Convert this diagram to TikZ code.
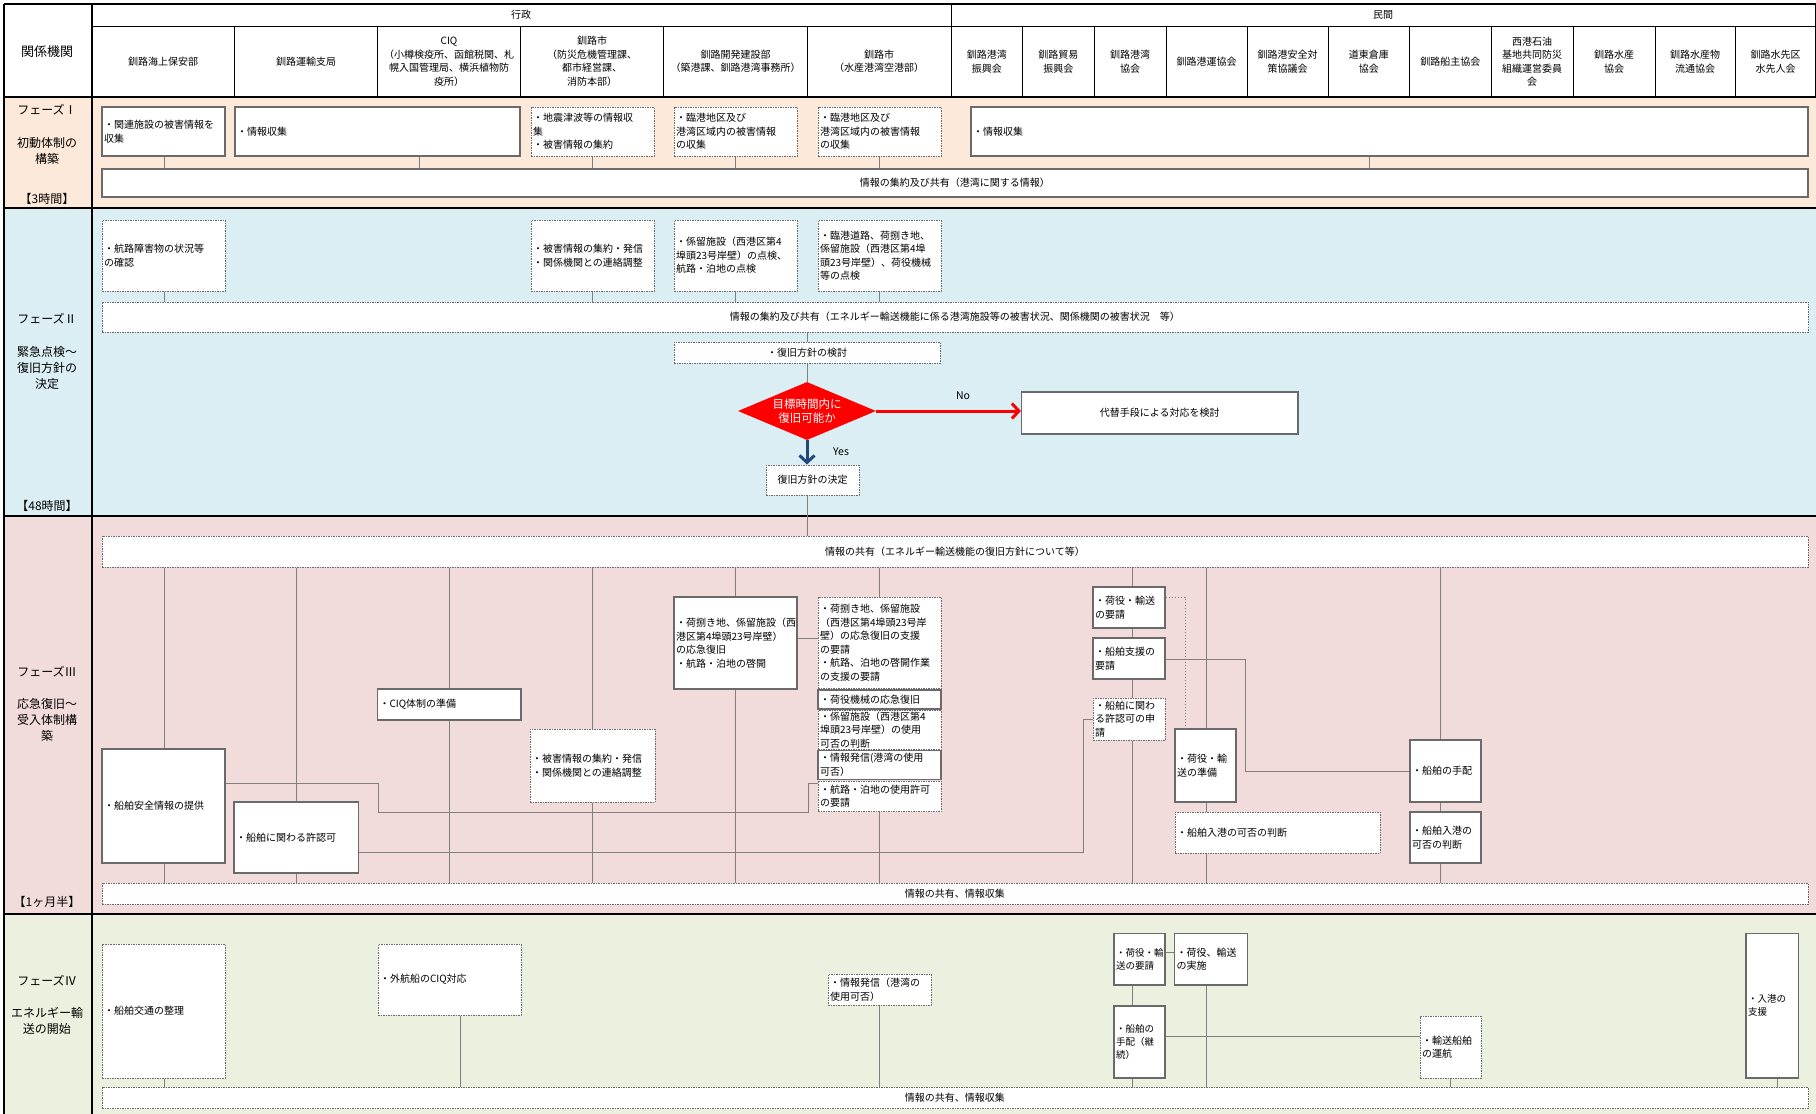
\documentclass[tikz,border=0pt]{standalone}
\usepackage{fontspec}
\setmainfont{Noto Sans CJK JP}
\usetikzlibrary{shapes.geometric,arrows.meta}
\definecolor{bgI}{HTML}{FDE9D9}
\definecolor{bgII}{HTML}{DAEEF3}
\definecolor{bgIII}{HTML}{F2DCDB}
\definecolor{bgIV}{HTML}{EBF1DE}
\definecolor{bdr}{HTML}{6A6A6A}
\definecolor{cn}{HTML}{7F7F7F}
\definecolor{dred}{HTML}{FF0000}
\definecolor{yesblue}{HTML}{1F497D}
\newcommand\fsz[2]{\fontsize{#1}{#2}\selectfont}
\newcommand\bx[7]{%
  \pgfmathsetmacro\bxw{#4-#2}\pgfmathsetmacro\bxh{#5-#3}\pgfmathsetmacro\bxt{#4-#2-4}%
  \node[#6, minimum width=\bxw pt, minimum height=\bxh pt, text width=\bxt pt] (#1) at ({(#2+#4)/2},{(#3+#5)/2}) {#7};}
\tikzset{
  bxbase/.style={rectangle, fill=white, inner xsep=2pt, inner ysep=1pt, font=\fsz{10}{13.5}, align=left},
  sbox/.style={bxbase, draw=bdr, line width=1.1pt},
  dbox/.style={bxbase, draw=bdr, line width=1pt, dash pattern=on 1.5pt off 1pt},
  ctr/.style={align=center},
  nsm/.style={font=\fsz{9.5}{13}},
  conn/.style={draw=cn, line width=1pt},
  dconn/.style={draw=cn, line width=1pt, dash pattern=on 1.5pt off 1.5pt},
  hdr/.style={font=\fsz{10}{13.5}, align=center, inner sep=0pt},
  ph/.style={font=\fsz{12}{16}, align=center, inner sep=0pt},
  thick line/.style={line width=2.5pt, black},
  bigarrow/.style={line width=3pt, -{Straight Barb[length=7pt,width=15pt]}},
}
\begin{document}
\begin{tikzpicture}[x=1pt,y=-1pt]
\useasboundingbox (0,0) rectangle (1816,1114);
\fill[white] (0,0) rectangle (1816,1114);
\fill[bgI] (4,97) rectangle (1816,208);
\fill[bgII] (4,208) rectangle (1816,516);
\fill[bgIII] (4,516) rectangle (1816,914);
\fill[bgIV] (4,914) rectangle (1816,1114);
% grid
\draw[line width=2pt] (4,4) -- (1816,4);
\draw[line width=2pt] (4,4) -- (4,1114);
\draw[line width=2pt] (91.5,4) -- (91.5,1114);
\draw[line width=1pt] (91.5,26) -- (1816,26);
\draw[line width=1pt] (951,4) -- (951,26);
\foreach \cx in {234.5,377.5,520.5,663.5,807.5,951,1022.5,1094,1166,1247,1328,1409.5,1491,1573,1655,1735}
  \draw[line width=1pt] (\cx,26) -- (\cx,97);
\draw[line width=1pt] (1815,4) -- (1815,97);
\foreach \ry in {97,208,516,914}
  \draw[thick line] (4,\ry) -- (1816,\ry);
% header
\node[font=\fsz{13}{16}, inner sep=0pt] (hKK) at (47,52) {関係機関};
\node[hdr] (hGS) at (521,15) {行政};
\node[hdr] (hMK) at (1383,15) {民間};
\node[hdr] (h1) at (163,61.5) {釧路海上保安部};
\node[hdr] (h2) at (306,61.5) {釧路運輸支局};
\node[hdr] (h3) at (449,61.5) {CIQ\\（小樽検疫所、函館税関、札\\幌入国管理局、横浜植物防\\疫所）};
\node[hdr] (h4) at (592,61.5) {釧路市\\（防災危機管理課、\\都市経営課、\\消防本部）};
\node[hdr] (h5) at (735.5,61.5) {釧路開発建設部\\（築港課、釧路港湾事務所）};
\node[hdr] (h6) at (879,61.5) {釧路市\\（水産港湾空港部）};
\node[hdr] (h7) at (986.75,61.5) {釧路港湾\\振興会};
\node[hdr] (h8) at (1058.25,61.5) {釧路貿易\\振興会};
\node[hdr] (h9) at (1130,61.5) {釧路港湾\\協会};
\node[hdr] (h10) at (1206.5,61.5) {釧路港運協会};
\node[hdr] (h11) at (1287.5,61.5) {釧路港安全対\\策協議会};
\node[hdr] (h12) at (1368.75,61.5) {道東倉庫\\協会};
\node[hdr] (h13) at (1450.25,61.5) {釧路船主協会};
\node[hdr] (h14) at (1532,61.5) {西港石油\\基地共同防災\\組織運営委員\\会};
\node[hdr] (h15) at (1614,61.5) {釧路水産\\協会};
\node[hdr] (h16) at (1695,61.5) {釧路水産物\\流通協会};
\node[hdr] (h17) at (1775.5,61.5) {釧路水先区\\水先人会};
% phase labels
\node[ph] (p1a) at (47,110) {フェーズⅠ};
\node[ph] (p1b) at (47,150.5) {初動体制の\\構築};
\node[ph] (p1c) at (47,199) {【3時間】};
\node[ph] (p2a) at (47,318.5) {フェーズⅡ};
\node[ph] (p2b) at (47,368) {緊急点検～\\復旧方針の\\決定};
\node[ph] (p2c) at (47,506) {【48時間】};
\node[ph] (p3a) at (47,672) {フェーズⅢ};
\node[ph] (p3b) at (47,720) {応急復旧～\\受入体制構\\築};
\node[ph] (p3c) at (47,902) {【1ヶ月半】};
\node[ph] (p4a) at (47,981) {フェーズⅣ};
\node[ph] (p4b) at (47,1021) {エネルギー輸\\送の開始};
% helper coordinates
\foreach \cx in {164,296,378,419,449,460,592,735,808,879,1083,1132,1185,1206,1245,1369,1440,1450,1777}
  \coordinate (x\cx) at (\cx,0);
\foreach \cy in {597,638,659,719,771,783,812,852,952,1036}
  \coordinate (y\cy) at (0,\cy);
% ---------- Phase I
\bx{A1}{102}{107}{225}{156}{sbox}{・関連施設の被害情報を\\収集}
\bx{A2}{235}{107}{520}{156}{sbox}{・情報収集}
\bx{A3}{531}{107}{654}{156}{dbox}{・地震津波等の情報収\\集\\・被害情報の集約}
\bx{A4}{674}{107}{797}{156}{dbox}{・臨港地区及び\\港湾区域内の被害情報\\の収集}
\bx{A5}{818}{107}{941}{156}{dbox}{・臨港地区及び\\港湾区域内の被害情報\\の収集}
\bx{A6}{971}{107}{1808}{156}{sbox}{・情報収集}
\bx{barI}{102}{169}{1808}{197}{sbox,ctr}{情報の集約及び共有（港湾に関する情報）}
\draw[conn] (A1.south -| x164) -- (barI.north -| x164);
\draw[conn] (A2.south -| x419) -- (barI.north -| x419);
\draw[conn] (A3.south -| x592) -- (barI.north -| x592);
\draw[conn] (A4.south -| x735) -- (barI.north -| x735);
\draw[conn] (A5.south -| x879) -- (barI.north -| x879);
\draw[conn] (A6.south -| x1369) -- (barI.north -| x1369);
% ---------- Phase II
\bx{B1}{102}{220}{225}{291}{dbox}{・航路障害物の状況等\\の確認}
\bx{B2}{531}{220}{654}{291}{dbox}{・被害情報の集約・発信\\・関係機関との連絡調整}
\bx{B3}{674}{220}{797}{291}{dbox}{・係留施設（西港区第4\\埠頭23号岸壁）の点検、\\航路・泊地の点検}
\bx{B4}{818}{220}{941}{291}{dbox}{・臨港道路、荷捌き地、\\係留施設（西港区第4埠\\頭23号岸壁）、荷役機械\\等の点検}
\bx{barII}{102}{302}{1808}{332}{dbox,ctr}{情報の集約及び共有（エネルギー輸送機能に係る港湾施設等の被害状況、関係機関の被害状況　等）}
\draw[conn] (B1.south -| x164) -- (barII.north -| x164);
\draw[conn] (B2.south -| x592) -- (barII.north -| x592);
\draw[conn] (B3.south -| x735) -- (barII.north -| x735);
\draw[conn] (B4.south -| x879) -- (barII.north -| x879);
\bx{Kento}{674}{342}{940}{363}{dbox,ctr}{・復旧方針の検討}
\node[diamond, fill=dred, draw=none, aspect=2.4, inner sep=0pt, minimum width=138pt, minimum height=58pt, text=white, font=\fsz{11.5}{14.5}, align=center] (Dia) at (807,411) {目標時間内に\\復旧可能か};
\bx{Alt}{1021.5}{392}{1298}{434}{sbox,ctr}{代替手段による対応を検討}
\bx{Kettei}{766}{465}{859}{495}{dbox,ctr}{復旧方針の決定}
\draw[conn] (barII.south -| Kento.north) -- (Kento.north);
\draw[conn] (Kento.south) -- (Dia.north);
\draw[dred, bigarrow] (Dia.east) -- (Alt.west |- Dia.east);
\draw[yesblue, bigarrow] (Dia.south) -- (Kettei.north -| Dia.south);
\node[font=\fsz{10.5}{12}, inner sep=0pt] (noL) at (963,396) {No};
\node[font=\fsz{10.5}{12}, inner sep=0pt] (yesL) at (841,452) {Yes};
% ---------- Phase III
\bx{barIIIt}{102}{536}{1808}{567}{dbox,ctr}{情報の共有（エネルギー輸送機能の復旧方針について等）}
\bx{barIIIb}{102}{883}{1808}{904}{dbox,ctr}{情報の共有、情報収集}
\draw[conn] (Kettei.south -| Dia.south) -- (barIIIt.north -| Dia.south);
\bx{S3}{102}{749}{225}{863}{sbox}{・船舶安全情報の提供}
\bx{K3}{234}{802}{358.5}{873}{sbox}{・船舶に関わる許認可}
\bx{CIQ3}{377.5}{689}{521}{720}{sbox}{・CIQ体制の準備}
\bx{H3}{530}{729}{655}{802}{dbox}{・被害情報の集約・発信\\・関係機関との連絡調整}
\bx{N3}{674}{597}{797}{689}{sbox}{・荷捌き地、係留施設（西\\港区第4埠頭23号岸壁）\\の応急復旧\\・航路・泊地の啓開}
\bx{R1}{818}{597}{941}{688.5}{dbox}{・荷捌き地、係留施設\\（西港区第4埠頭23号岸\\壁）の応急復旧の支援\\の要請\\・航路、泊地の啓開作業\\の支援の要請}
\bx{R2}{818}{690}{941}{709}{sbox}{・荷役機械の応急復旧}
\bx{R3}{818}{710.5}{941}{749.5}{dbox}{・係留施設（西港区第4\\埠頭23号岸壁）の使用\\可否の判断}
\bx{R4}{818}{750.5}{941}{779.5}{sbox}{・情報発信(港湾の使用\\可否）}
\bx{R5}{818}{781}{941}{811.7}{dbox}{・航路・泊地の使用許可\\の要請}
\bx{Y3}{1093}{587}{1165}{628}{sbox}{・荷役・輸送\\の要請}
\bx{Sh3}{1093}{638}{1165}{679}{sbox}{・船舶支援の\\要請}
\bx{Ap3}{1093}{698}{1165}{740}{dbox}{・船舶に関わ\\る許認可の申\\請}
\bx{J3}{1175}{729}{1236}{802}{sbox}{・荷役・輸\\送の準備}
\bx{NyW}{1175}{812}{1380}{853}{dbox}{・船舶入港の可否の判断}
\bx{T3}{1410}{740}{1481}{802}{sbox}{・船舶の手配}
\bx{NyS}{1410}{812}{1481}{863}{sbox}{・船舶入港の\\可否の判断}
% verticals phase III
\draw[conn] (barIIIt.south -| x164) -- (S3.north -| x164);
\draw[conn] (S3.south -| x164) -- (barIIIb.north -| x164);
\draw[conn] (barIIIt.south -| x296) -- (K3.north -| x296);
\draw[conn] (K3.south -| x296) -- (barIIIb.north -| x296);
\draw[conn] (barIIIt.south -| x449) -- (CIQ3.north -| x449);
\draw[conn] (CIQ3.south -| x449) -- (barIIIb.north -| x449);
\draw[conn] (barIIIt.south -| x592) -- (H3.north -| x592);
\draw[conn] (H3.south -| x592) -- (barIIIb.north -| x592);
\draw[conn] (barIIIt.south -| x735) -- (N3.north -| x735);
\draw[conn] (N3.south -| x735) -- (barIIIb.north -| x735);
\draw[conn] (barIIIt.south -| x879) -- (R1.north -| x879);
\draw[conn] (R5.south -| x879) -- (barIIIb.north -| x879);
\draw[conn] (barIIIt.south -| x1132) -- (Y3.north -| x1132);
\draw[conn] (Y3.south -| x1132) -- (Sh3.north -| x1132);
\draw[conn] (Sh3.south -| x1132) -- (Ap3.north -| x1132);
\draw[conn] (Ap3.south -| x1132) -- (barIIIb.north -| x1132);
\draw[conn] (barIIIt.south -| x1206) -- (J3.north -| x1206);
\draw[conn] (J3.south -| x1206) -- (NyW.north -| x1206);
\draw[conn] (NyW.south -| x1206) -- (barIIIb.north -| x1206);
\draw[conn] (barIIIt.south -| x1440) -- (T3.north -| x1440);
\draw[conn] (T3.south -| x1440) -- (NyS.north -| x1440);
\draw[conn] (NyS.south -| x1440) -- (barIIIb.north -| x1440);
% horizontal connectors phase III
\draw[conn] (N3.east |- y638) -- (R1.west |- y638);
\draw[conn] (S3.east |- y783) -| (x378 |- y812) -| (x808 |- y783) -- (R5.west |- y783);
\draw[conn] (K3.east |- y852) -| (x1083 |- y719) -- (Ap3.west |- y719);
\draw[conn] (Sh3.east |- y659) -| (x1245 |- y771) -- (T3.west |- y771);
\draw[dconn] (Y3.east |- y597) -| (J3.north -| x1185);
% ---------- Phase IV
\bx{S4}{102}{944}{225}{1078}{dbox}{・船舶交通の整理}
\bx{C4}{378}{944}{521}{1015}{dbox}{・外航船のCIQ対応}
\bx{I4}{828}{974}{931}{1005}{dbox}{・情報発信（港湾の\\使用可否）}
\bx{Y4}{1114}{933.5}{1165}{985}{sbox,nsm}{・荷役・輸\\送の要請}
\bx{E4}{1174.5}{933.5}{1247.5}{985}{sbox}{・荷役、輸送\\の実施}
\bx{T4}{1114}{1006}{1165}{1078}{sbox,nsm}{・船舶の\\手配（継\\続）}
\bx{U4}{1420}{1016}{1481}{1078}{dbox}{・輸送船舶\\の運航}
\bx{N4}{1746}{933.5}{1798.5}{1078}{sbox,nsm}{・入港の\\支援}
\bx{barIV}{102}{1087.5}{1808}{1108.5}{dbox,ctr}{情報の共有、情報収集}
\draw[conn] (S4.south -| x164) -- (barIV.north -| x164);
\draw[conn] (C4.south -| x460) -- (barIV.north -| x460);
\draw[conn] (I4.south -| x879) -- (barIV.north -| x879);
\draw[conn] (Y4.south -| x1132) -- (T4.north -| x1132);
\draw[conn] (T4.south -| x1132) -- (barIV.north -| x1132);
\draw[conn] (E4.south -| x1206) -- (barIV.north -| x1206);
\draw[conn] (Y4.east |- y952) -- (E4.west |- y952);
\draw[conn] (T4.east |- y1036) -- (U4.west |- y1036);
\draw[conn] (U4.south -| x1450) -- (barIV.north -| x1450);
\draw[conn] (N4.south -| x1777) -- (barIV.north -| x1777);
\end{tikzpicture}
\end{document}
